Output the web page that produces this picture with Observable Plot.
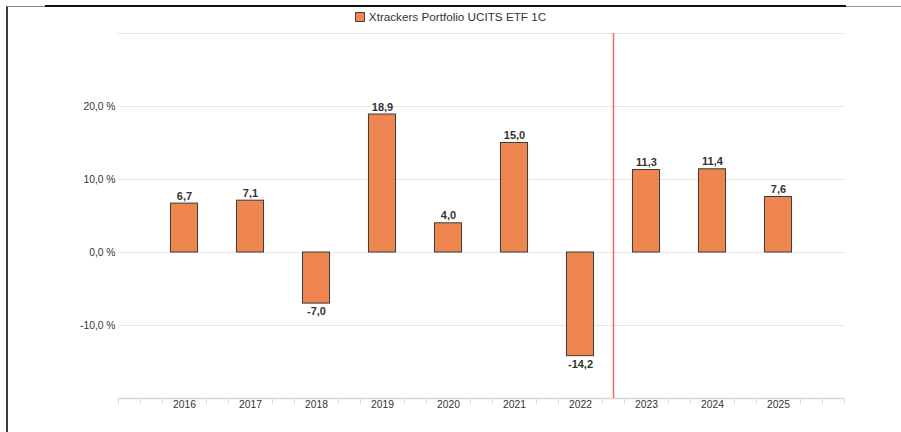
<!DOCTYPE html>
<html>
<head>
<meta charset="utf-8">
<script src="https://cdn.jsdelivr.net/npm/d3@7"></script>
<script src="https://cdn.jsdelivr.net/npm/@observablehq/plot@0.6"></script>
<style>
  html, body { margin: 0; padding: 0; background: #fff; }
  #wrap { position: relative; width: 901px; height: 432px; overflow: hidden; font-family: "Liberation Sans", Arial, sans-serif; }
  #legend { position: absolute; top: 10px; left: 0; width: 901px; text-align: center; font-size: 11.7px; color: #333; line-height: 14px; }
  #legend .sw { display: inline-block; width: 8px; height: 8px; background: #EF8650; border: 1px solid #444; vertical-align: -1px; margin-right: 4px; }
  .bl { position: absolute; left: 6px; top: 6px; width: 2px; height: 426px; background: #3a3a3a; }
  .bt { position: absolute; left: 45px; top: 5px; width: 801px; height: 2px; background: #111; }
  .bt2 { position: absolute; left: 7px; top: 6px; width: 38px; height: 1px; background: #888; }
  .bt3 { position: absolute; left: 846px; top: 6px; width: 55px; height: 1px; background: #999; }
  svg { position: absolute; left: 0; top: 0; }
</style>
</head>
<body>
<div id="wrap">
  <div id="chart"></div>
  <div class="bl"></div><div class="bt"></div><div class="bt2"></div><div class="bt3"></div>
  <div id="legend"><span class="sw"></span>Xtrackers Portfolio UCITS ETF 1C</div>
</div>
<script>
const years = [2016, 2017, 2018, 2019, 2020, 2021, 2022, 2023, 2024, 2025];
const returns = [6.7, 7.1, -7.0, 18.9, 4.0, 15.0, -14.2, 11.3, 11.4, 7.6];
const yTicks = [20, 10, 0, -10];
const gridValues = [30, 20, 10, 0, -10];
const splitAt = [2022.5];
const xDomain = [2015, 2026];
const yDomain = [-20, 30];

const data = years.map((year, i) => ({year, value: returns[i]}));
const fmt = v => v.toFixed(1).replace(".", ",");
const minorTicks = d3.range(0, 34).map(j => xDomain[0] + j / 3)
  .filter((t, j) => j % 3 !== 0 || j === 0 || j === 33);

const chart = Plot.plot({
  width: 901,
  height: 432,
  marginLeft: 118,
  marginRight: 57,
  marginTop: 33,
  marginBottom: 34,
  style: {fontFamily: "'Liberation Sans', Arial, sans-serif", color: "#333", background: "transparent"},
  x: {domain: xDomain, axis: null, label: null},
  y: {domain: yDomain, axis: null, label: null},
  marks: [
    Plot.ruleY(gridValues, {stroke: "#e6e6e6", strokeWidth: 1}),
    Plot.ruleY([yDomain[0]], {stroke: "#d8d8d8", strokeWidth: 1.5}),
    Plot.axisX({ticks: minorTicks, tickSize: 6, tickFormat: () => "", label: null, stroke: "#d8d8d8", strokeOpacity: 1}),
    Plot.axisX({ticks: years, tickSize: 0, tickPadding: 2, tickFormat: d => String(d), label: null, fontSize: 10.3, fill: "#333"}),
    Plot.axisY({ticks: yTicks, tickSize: 0, tickPadding: 3, tickFormat: d => fmt(d) + " %", label: null, fontSize: 10.3, fill: "#333"}),
    Plot.ruleX(splitAt, {y1: yDomain[0], y2: yDomain[1], stroke: "#f26868", strokeWidth: 1.5}),
    Plot.rectY(data, {x1: d => d.year - 0.205, x2: d => d.year + 0.205, y: "value", fill: "#EF8650", stroke: "#3a3a3a", strokeWidth: 1}),
    Plot.text(data.filter(d => d.value >= 0), {x: "year", y: "value", text: d => fmt(d.value), lineAnchor: "bottom", dy: -4, fontSize: 11, fontWeight: "bold", fill: "#333"}),
    Plot.text(data.filter(d => d.value < 0), {x: "year", y: "value", text: d => fmt(d.value), lineAnchor: "top", dy: 4, fontSize: 11, fontWeight: "bold", fill: "#333"})
  ]
});
document.getElementById("chart").appendChild(chart);
</script>
</body>
</html>
